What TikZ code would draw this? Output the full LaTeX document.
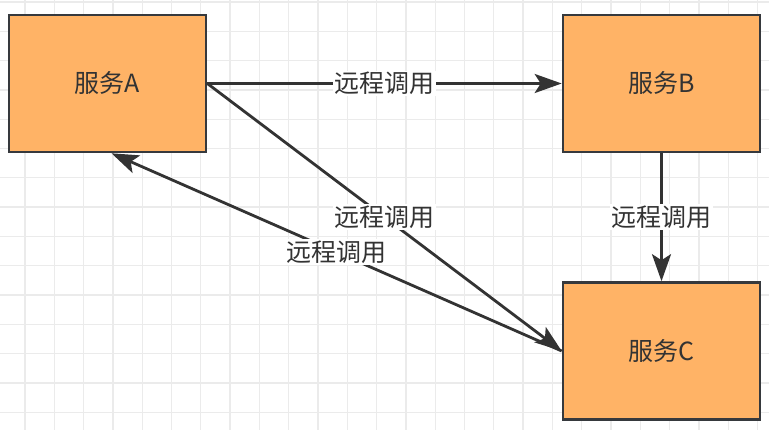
\documentclass[tikz,border=0pt]{standalone}
\usepackage{fontspec}
\setmainfont{Noto Sans CJK SC}
\usetikzlibrary{arrows.meta}
\definecolor{svcfill}{HTML}{FFB366}
\definecolor{svcline}{HTML}{36393D}
\definecolor{linkline}{HTML}{333333}
\definecolor{gridgray}{HTML}{EBEBEB}
\tikzset{
  svcbox/.style={draw=svcline, line width=2.6pt, fill=svcfill, minimum width=197pt,
    minimum height=137pt, inner sep=0pt, font=\fontsize{25}{29}\selectfont, text=linkline},
  callarr/.style={-{Stealth[length=27pt,width=19pt,inset=6pt]}, line width=2.8pt, draw=linkline},
  calllabel/.style={fill=white, inner sep=1.5pt, font=\fontsize{25}{29}\selectfont, text=linkline},
  gridline/.style={draw=gridgray, line width=1.3pt}
}

\begin{document}
\begin{tikzpicture}[x=1pt,y=-1pt]
  \useasboundingbox (0,0) rectangle (769,430);
  \fill[white] (0,0) rectangle (769,430);
  % background grid
  \foreach \i in {0,...,25} \draw[gridline] ({25+29.3*\i},0) -- ({25+29.3*\i},430);
  \foreach \j in {0,...,14} \draw[gridline] (0,{2+29.3*\j}) -- (769,{2+29.3*\j});
  % services
  \node[svcbox] (A) at (107.5,83.5) {服务A};
  \node[svcbox] (B) at (661.5,83.5) {服务B};
  \node[svcbox] (C) at (661.5,351) {服务C};
  % calls
  \draw[callarr] (A.east) -- node[calllabel] {远程调用} (B.west);
  \draw[callarr] (B.south) -- node[calllabel] {远程调用} (C.north);
  \draw[callarr] (A.east) -- node[calllabel] {远程调用} (C.west);
  \draw[callarr] (C.west) -- node[calllabel] {远程调用} ([xshift=4pt]A.south);
\end{tikzpicture}
\end{document}
